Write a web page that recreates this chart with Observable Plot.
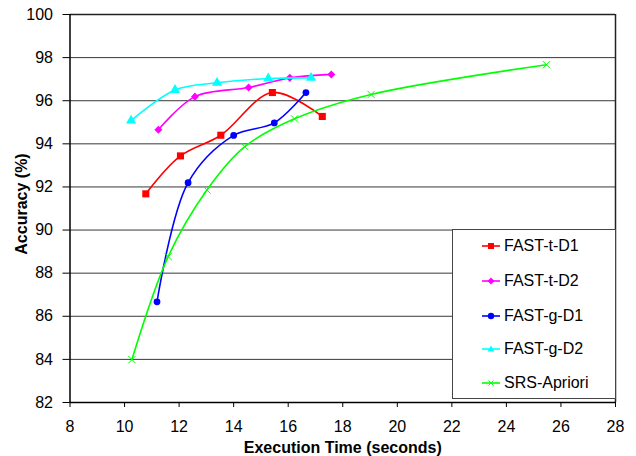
<!DOCTYPE html>
<html><head><meta charset="utf-8">
<script src="https://cdn.jsdelivr.net/npm/d3@7"></script>
<script src="https://cdn.jsdelivr.net/npm/@observablehq/plot@0.6"></script>
<style>
body{margin:0;background:#fff;font-family:"Liberation Sans",Arial,sans-serif;}
#wrap{position:relative;width:636px;height:456px;}
#legend{position:absolute;left:452px;top:229px;width:164px;height:170px;border:1px solid #444;background:#fff;box-sizing:border-box;}
.row{position:absolute;left:0;height:20px;display:flex;align-items:center;font-size:16px;color:#000;white-space:nowrap;}
.row svg{margin-left:29px;margin-right:4px;}
</style>
</head><body>
<div id="wrap"><div id="legend"></div></div>
<script>
const seriesNames = ["FAST-t-D1","FAST-t-D2","FAST-g-D1","FAST-g-D2","SRS-Apriori"];
const seriesColors = ["#FF0000","#FF00FF","#0000FF","#00FFFF","#00FF00"];
const tD1_x = [10.78,12.05,13.53,15.42,17.25];
const tD1_y = [91.68,93.44,94.40,96.38,95.27];
const tD2_x = [11.24,12.58,14.55,16.06,17.58];
const tD2_y = [94.65,96.19,96.61,97.06,97.22];
const gD1_x = [11.19,12.33,14.00,15.49,16.65];
const gD1_y = [86.67,92.20,94.39,94.97,96.38];
const gD2_x = [10.24,11.85,13.39,15.27,16.84];
const gD2_y = [95.08,96.50,96.83,97.03,97.06];
const srs_x = [10.27,11.60,13.02,14.41,16.23,19.04,25.47];
const srs_y = [83.99,88.77,91.86,93.87,95.16,96.29,97.67];
const xTicks = [8,10,12,14,16,18,20,22,24,26,28];
const yTicks = [82,84,86,88,90,92,94,96,98,100];

const xs = [tD1_x,tD2_x,gD1_x,gD2_x,srs_x];
const ys = [tD1_y,tD2_y,gD1_y,gD2_y,srs_y];
const data = [];
xs.forEach((xa,i)=>xa.forEach((x,j)=>data.push({s:seriesNames[i],x,y:ys[i][j]})));
const sym = {"FAST-t-D1":"square","FAST-t-D2":"square","FAST-g-D1":"circle","FAST-g-D2":"triangle","SRS-Apriori":"times"};
const rr = {"FAST-t-D1":4,"FAST-t-D2":3.2,"FAST-g-D1":3.4,"FAST-g-D2":3.8,"SRS-Apriori":3.4};
const color = Object.fromEntries(seriesNames.map((n,i)=>[n,seriesColors[i]]));

const marks = [
  Plot.ruleY(yTicks.filter(v=>v>82&&v<100), {stroke:"#222", strokeWidth:1, strokeOpacity:0.9}),
  Plot.ruleY([100], {stroke:"#222", strokeWidth:1.5}),
  Plot.ruleX([28], {stroke:"#222", strokeWidth:1.5}),
  Plot.ruleY([82], {stroke:"#000", strokeWidth:1.5}),
  Plot.ruleX([8], {stroke:"#000", strokeWidth:1.5}),
  Plot.axisX({ticks:xTicks, tickSize:5, tickPadding:13, fontSize:16, label:null}),
  Plot.axisY({ticks:yTicks, tickSize:7, tickPadding:10, fontSize:16, label:null}),
  Plot.text(["Execution Time (seconds)"], {frameAnchor:"bottom", textAnchor:"middle", lineAnchor:"bottom", dy:50, fontWeight:"bold", fontSize:16}),
  Plot.text(["Accuracy (%)"], {frameAnchor:"left", textAnchor:"middle", lineAnchor:"middle", dx:-48, dy:-4.5, rotate:-90, fontWeight:"bold", fontSize:16}),
];
seriesNames.forEach(n=>{
  const d = data.filter(e=>e.s===n);
  marks.push(Plot.line(d,{x:"x",y:"y",stroke:color[n],strokeWidth:1.6,curve:"catmull-rom"}));
  const opts = {x:"x",y:"y",symbol:()=>sym[n],r:rr[n]};
  if(n==="SRS-Apriori"){opts.stroke=color[n];opts.strokeWidth=1;opts.fill="none";}
  else {opts.fill=color[n];opts.stroke="none";}
  if(n==="FAST-t-D2") opts.rotate=45;
  marks.push(Plot.dot(d,opts));
});

const chart = Plot.plot({
  width:636, height:456,
  marginLeft:69.5, marginRight:21, marginTop:14, marginBottom:54,
  style:{fontFamily:"'Liberation Sans',Arial,sans-serif", color:"#000", background:"#fff"},
  x:{domain:[8,28]},
  y:{domain:[82,100]},
  symbol:{type:"identity"},
  marks
});
const wrap = document.getElementById("wrap");
wrap.insertBefore(chart, wrap.firstChild);

const legend = document.getElementById("legend");
const rowY = [6,41,76,109,143];
seriesNames.forEach((n,i)=>{
  const row = document.createElement("div");
  row.className="row"; row.style.top=rowY[i]+"px";
  const c = seriesColors[i];
  let m;
  if(n==="FAST-t-D1") m=`<rect x="6" y="3" width="6" height="6" fill="${c}"/>`;
  else if(n==="FAST-t-D2") m=`<rect x="6.5" y="3.5" width="5" height="5" fill="${c}" transform="rotate(45 9 6)"/>`;
  else if(n==="FAST-g-D1") m=`<circle cx="9" cy="6" r="3.2" fill="${c}"/>`;
  else if(n==="FAST-g-D2") m=`<path d="M9 2.5 L12.5 8.5 L5.5 8.5Z" fill="${c}"/>`;
  else m=`<path d="M6.5 3.5 L11.5 8.5 M11.5 3.5 L6.5 8.5" stroke="${c}" stroke-width="1"/>`;
  row.innerHTML = `<svg width="18" height="12"><line x1="0" y1="6" x2="18" y2="6" stroke="${c}" stroke-width="1.6"/>${m}</svg><span>${n}</span>`;
  legend.appendChild(row);
});
</script>
</body></html>
